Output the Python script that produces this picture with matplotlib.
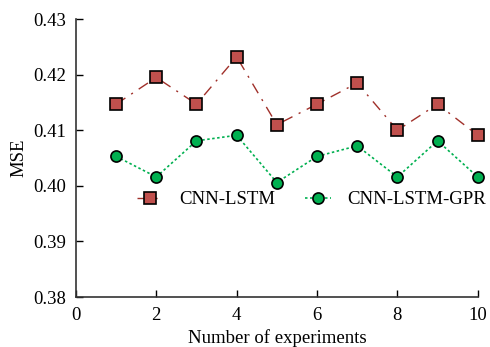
import matplotlib
matplotlib.use("Agg")
import matplotlib.pyplot as plt

plt.rcParams['font.family'] = ['Liberation Serif', 'DejaVu Serif']

experiments = [1, 2, 3, 4, 5, 6, 7, 8, 9, 10]
cnn_lstm = [0.4147, 0.4195, 0.4147, 0.4232, 0.4110, 0.4147, 0.4185, 0.4100, 0.4147, 0.4091]
cnn_lstm_gpr = [0.4053, 0.4016, 0.4081, 0.4091, 0.4006, 0.4053, 0.4072, 0.4016, 0.4081, 0.4016]

fig = plt.figure(figsize=(4.9, 3.47), dpi=100)
ax = fig.add_axes([0.155, 0.144, 0.82, 0.801])

ax.plot(experiments, cnn_lstm, linestyle=(0, (8, 5, 1.5, 5)), color='#A0302A', linewidth=1.0,
        marker='s', markersize=8, markerfacecolor='#C0504D', markeredgecolor='black',
        markeredgewidth=1.2, label='CNN-LSTM')
ax.plot(experiments, cnn_lstm_gpr, linestyle=(0, (1.5, 1.5)), color='#00B050', linewidth=1.2,
        marker='o', markersize=8, markerfacecolor='#00B050', markeredgecolor='black',
        markeredgewidth=1.2, label='CNN-LSTM-GPR')

ax.set_xlim(0, 10)
ax.set_ylim(0.38, 0.43)
ax.set_xticks([0, 2, 4, 6, 8, 10])
ax.set_yticks([0.38, 0.39, 0.40, 0.41, 0.42, 0.43])
ax.set_yticklabels(['0.38', '0.39', '0.40', '0.41', '0.42', '0.43'])
ax.tick_params(direction='in', labelsize=13.5, length=5, width=1, pad=7)
ax.spines['top'].set_visible(False)
ax.spines['right'].set_visible(False)
for s in ['left', 'bottom']:
    ax.spines[s].set_linewidth(1.2)
    ax.spines[s].set_color('#333333')
ax.set_xlabel('Number of experiments', fontsize=13.5, labelpad=4)
ax.set_ylabel('MSE', fontsize=13.5, labelpad=4)
for line in ax.lines:
    line.set_clip_on(False)

ax.legend(loc='center left', bbox_to_anchor=(0.152, 0.35), ncol=2, frameon=False,
          fontsize=13.5, handlelength=1.4, columnspacing=1.6, handletextpad=0.85,
          borderpad=0, borderaxespad=0)

fig.savefig('out.png', dpi=100)
